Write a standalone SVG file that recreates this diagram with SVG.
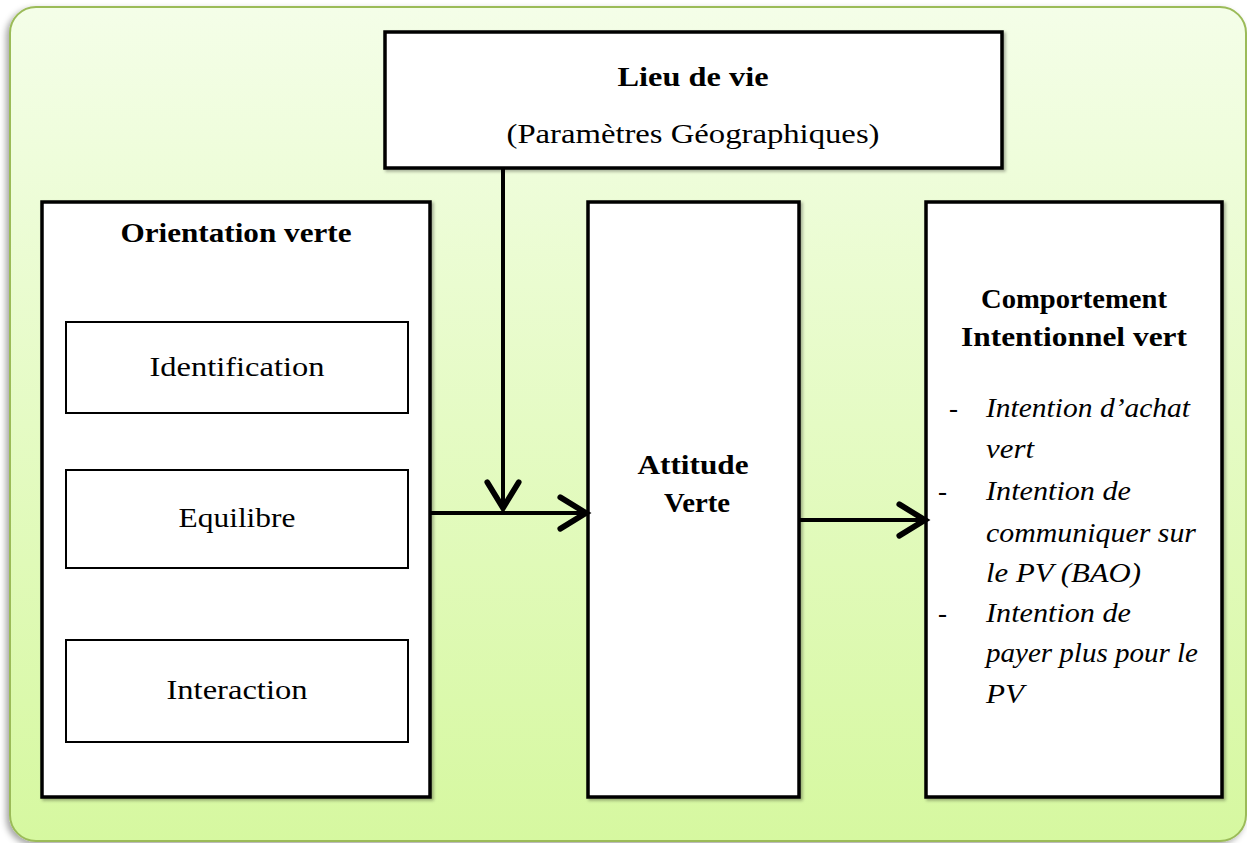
<svg xmlns="http://www.w3.org/2000/svg" width="1247" height="843" viewBox="0 0 1247 843">
  <defs>
    <linearGradient id="bg" x1="0" y1="0" x2="0" y2="1">
      <stop offset="0" stop-color="#f4fee8"/>
      <stop offset="1" stop-color="#d6f8a0"/>
    </linearGradient>
    <filter id="shadow" x="-5%" y="-5%" width="110%" height="110%">
      <feDropShadow dx="-3" dy="3" stdDeviation="3" flood-color="#000" flood-opacity="0.35"/>
    </filter>
    <filter id="bshadow" x="-5%" y="-5%" width="110%" height="110%">
      <feDropShadow dx="2" dy="2" stdDeviation="1.5" flood-color="#000" flood-opacity="0.3"/>
    </filter>
    <marker id="arr" markerUnits="userSpaceOnUse" markerWidth="40" markerHeight="40" refX="0" refY="0" viewBox="-22 -14 26 28" orient="auto" overflow="visible">
      <path d="M-18,-11 L0,0 L-18,11" fill="none" stroke="#000" stroke-width="4" stroke-linecap="round" stroke-linejoin="miter"/>
    </marker>
  </defs>
  <style>
    .box { fill: #fff; stroke: #000; stroke-width: 3.5; filter: url(#bshadow); }
    .inner { fill: #fff; stroke: #000; stroke-width: 2; }
    .t { font-family: "Liberation Serif", "DejaVu Serif", serif; font-size: 27px; fill: #000; }
    .b { font-weight: bold; }
    .i { font-style: italic; }
    .c { text-anchor: middle; }
    .conn { stroke: #000; stroke-width: 4; fill: none; }
  </style>

  <rect id="background" x="10" y="7" width="1236" height="834" rx="26" ry="26" fill="url(#bg)" stroke="#9bbb59" stroke-width="2" filter="url(#shadow)"/>

  <g id="lieu">
    <rect class="box" x="385" y="32" width="617" height="136"/>
    <text class="t b c" x="693" y="86" textLength="151" lengthAdjust="spacingAndGlyphs">Lieu de vie</text>
    <text class="t c" x="693" y="143" textLength="373" lengthAdjust="spacingAndGlyphs">(Paramètres Géographiques)</text>
  </g>

  <g id="orientation">
    <rect class="box" x="42" y="202" width="388" height="595"/>
    <text class="t b c" x="236" y="242" textLength="231" lengthAdjust="spacingAndGlyphs">Orientation verte</text>
  </g>
  <g id="identification">
    <rect class="inner" x="66" y="322" width="342" height="91"/>
    <text class="t c" x="237" y="376" textLength="175" lengthAdjust="spacingAndGlyphs">Identification</text>
  </g>
  <g id="equilibre">
    <rect class="inner" x="66" y="470" width="342" height="98"/>
    <text class="t c" x="237" y="527" textLength="117" lengthAdjust="spacingAndGlyphs">Equilibre</text>
  </g>
  <g id="interaction">
    <rect class="inner" x="66" y="640" width="342" height="102"/>
    <text class="t c" x="237" y="699" textLength="141" lengthAdjust="spacingAndGlyphs">Interaction</text>
  </g>

  <g id="attitude">
    <rect class="box" x="588" y="202" width="211" height="595"/>
    <text class="t b c" x="693" y="474" textLength="111" lengthAdjust="spacingAndGlyphs">Attitude</text>
    <text class="t b c" x="697" y="512" textLength="66" lengthAdjust="spacingAndGlyphs">Verte</text>
  </g>

  <g id="comportement">
    <rect class="box" x="926" y="202" width="296" height="595"/>
    <text class="t b c" x="1074" y="308" textLength="186" lengthAdjust="spacingAndGlyphs">Comportement</text>
    <text class="t b c" x="1074" y="346" textLength="226" lengthAdjust="spacingAndGlyphs">Intentionnel vert</text>
    <text class="t" x="949" y="417">-</text>
    <text class="t i" x="986" y="417" textLength="204" lengthAdjust="spacingAndGlyphs">Intention d’achat</text>
    <text class="t i" x="986" y="458" textLength="48" lengthAdjust="spacingAndGlyphs">vert</text>
    <text class="t" x="938" y="500">-</text>
    <text class="t i" x="986" y="500" textLength="145" lengthAdjust="spacingAndGlyphs">Intention de</text>
    <text class="t i" x="986" y="542" textLength="210" lengthAdjust="spacingAndGlyphs">communiquer sur</text>
    <text class="t i" x="986" y="582" textLength="155" lengthAdjust="spacingAndGlyphs">le PV (BAO)</text>
    <text class="t" x="938" y="622">-</text>
    <text class="t i" x="986" y="622" textLength="145" lengthAdjust="spacingAndGlyphs">Intention de</text>
    <text class="t i" x="986" y="662" textLength="212" lengthAdjust="spacingAndGlyphs">payer plus pour le</text>
    <text class="t i" x="986" y="703" textLength="38" lengthAdjust="spacingAndGlyphs">PV</text>
  </g>

  <g id="connectors">
    <line class="conn" x1="503" y1="168" x2="503" y2="508" marker-end="url(#arr)"/>
    <line class="conn" x1="430" y1="513" x2="586" y2="513" marker-end="url(#arr)"/>
    <line class="conn" x1="799" y1="520" x2="925" y2="520" marker-end="url(#arr)"/>
  </g>
</svg>
